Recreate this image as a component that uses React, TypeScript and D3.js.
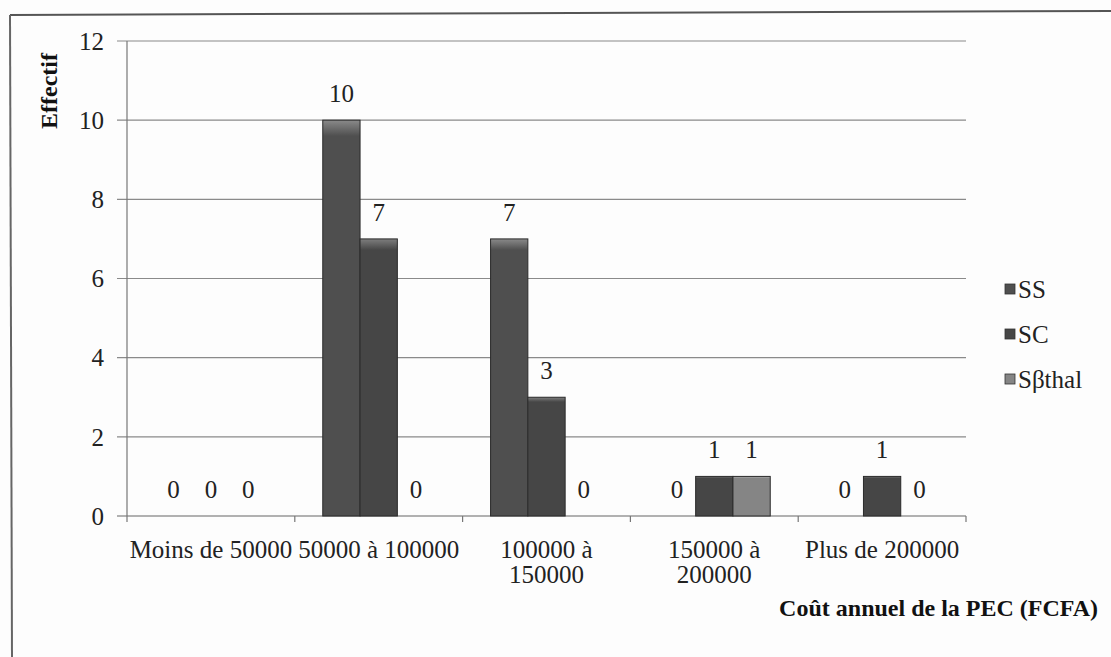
import React from "react";
import * as d3 from "d3";

const categories = ["Moins de 50000", "50000 à 100000", "100000 à 150000", "150000 à 200000", "Plus de 200000"];
const categoryLines = [["Moins de 50000"], ["50000 à 100000"], ["100000 à", "150000"], ["150000 à", "200000"], ["Plus de 200000"]];
const seriesNames = ["SS", "SC", "Sβthal"];
const ssValues = [0, 10, 7, 0, 0];
const scValues = [0, 7, 3, 1, 1];
const sbthalValues = [0, 0, 0, 1, 0];
const yTicks = [0, 2, 4, 6, 8, 10, 12];

const seriesValues = [ssValues, scValues, sbthalValues];
const colors = ["#4f4f4f", "#464646", "#858585"];
const tops = ["#8a8a8a", "#7e7e7e", "#c4c4c4"];

export default function App() {
  const W = 1111, H = 657;
  const x0 = 127, x1 = 966, yTop = 41, yBot = 516;
  const x = d3.scaleBand<string>().domain(categories).range([x0, x1]).padding(0);
  const xs = d3.scaleBand<string>().domain(seriesNames).range([0, x.bandwidth()]).paddingInner(0).paddingOuter(0.75);
  const y = d3.scaleLinear().domain([0, 12]).range([yBot, yTop]);
  const font = "'Liberation Serif', 'Times New Roman', serif";
  const ts = { fontFamily: font };

  return (
    <svg width={W} height={H} style={{ position: "absolute", left: 0, top: 0, background: "#fff" }}>
      <defs>
        {colors.map((c, i) => (
          <linearGradient key={i} id={"g" + i} x1="0" y1="0" x2="0" y2="1">
            <stop offset="0" stopColor={tops[i]} />
            <stop offset="0.04" stopColor={c} />
            <stop offset="1" stopColor={c} />
          </linearGradient>
        ))}
      </defs>
      <rect x={0} y={0} width={W} height={H} fill="#fdfdfd" />
      {/* outer frame */}
      <line x1={10} y1={15} x2={W} y2={11} stroke="#555" strokeWidth={2} />
      <line x1={10} y1={15} x2={12} y2={H} stroke="#666" strokeWidth={2} />
      {/* gridlines */}
      {yTicks.map((t) => (
        <g key={t}>
          <line x1={117} x2={x1} y1={y(t)} y2={y(t)} stroke={t === 0 ? "#666" : "#8a8a8a"} strokeWidth={1.2} />
          <text x={104} y={y(t)} dy="0.35em" textAnchor="end" style={ts} fontSize={25} fill="#222">{t}</text>
        </g>
      ))}
      <line x1={x0} x2={x0} y1={yTop} y2={yBot + 6} stroke="#777" strokeWidth={1.2} />
      {categories.map((c) => (
        <line key={c} x1={(x(c) as number) + x.bandwidth()} x2={(x(c) as number) + x.bandwidth()} y1={yBot} y2={yBot + 6} stroke="#777" strokeWidth={1.2} />
      ))}
      {/* bars */}
      {categories.map((c, ci) => (
        <g key={c}>
          {seriesNames.map((s, si) => {
            const v = seriesValues[si][ci];
            const bx = (x(c) as number) + (xs(s) as number);
            const bw = xs.bandwidth();
            return (
              <g key={s}>
                {v > 0 && (
                  <rect x={bx} y={y(v)} width={bw} height={yBot - y(v)} fill={`url(#g${si})`} stroke="#2a2a2a" strokeWidth={1} />
                )}
                <text x={bx + bw / 2} y={y(v) - 18} textAnchor="middle" style={ts} fontSize={25} fill="#222">{v}</text>
              </g>
            );
          })}
        </g>
      ))}
      {/* category labels */}
      {categories.map((c, i) => (
        <text key={c} textAnchor="middle" style={ts} fontSize={25} fill="#222">
          {categoryLines[i].map((ln, li) => (
            <tspan key={li} x={(x(c) as number) + x.bandwidth() / 2} y={558 + li * 25}>{ln}</tspan>
          ))}
        </text>
      ))}
      {/* axis titles */}
      <text x={1098} y={616} textAnchor="end" style={ts} fontSize={24} fontWeight="bold" fill="#111">Coût annuel de la PEC (FCFA)</text>
      <text transform="translate(57,91) rotate(-90)" textAnchor="middle" style={ts} fontSize={24} fontWeight="bold" fill="#111">Effectif</text>
      {/* legend */}
      {seriesNames.map((s, i) => (
        <g key={s} transform={`translate(1005,${289 + i * 45})`}>
          <rect x={0} y={-5} width={10} height={10} fill={`url(#g${i})`} stroke="#333" strokeWidth={0.8} />
          <text x={13} y={0} dy="0.35em" style={ts} fontSize={25} fill="#222">{s}</text>
        </g>
      ))}
    </svg>
  );
}
